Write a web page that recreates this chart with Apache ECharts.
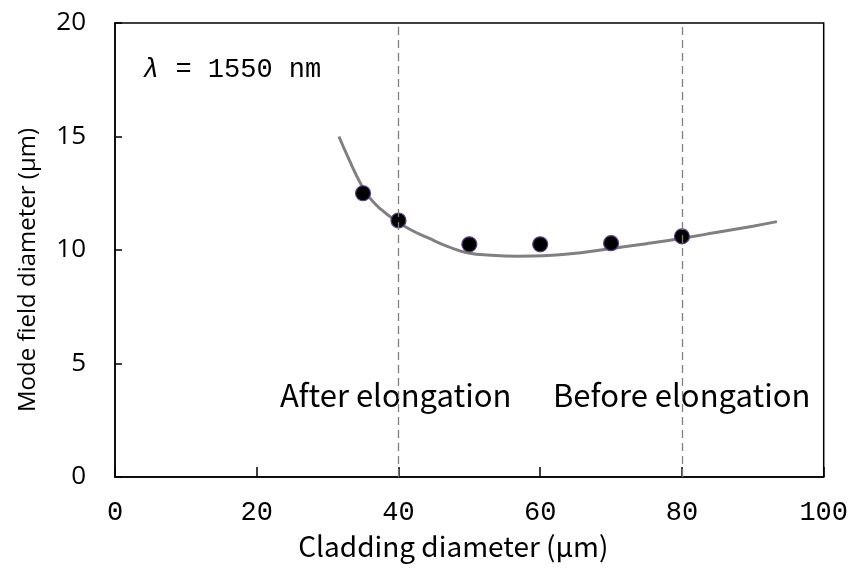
<!DOCTYPE html>
<html>
<head>
<meta charset="utf-8">
<script src="https://cdn.jsdelivr.net/npm/echarts@6/dist/echarts.min.js"></script>
<style>
  html, body { margin: 0; padding: 0; background: #fff; }
  #chart { width: 851px; height: 572px; }
</style>
</head>
<body>
<div id="chart"></div>
<script>
// measured points
const cladding = [35, 40, 50, 60, 70, 80]
const mfd = [12.5, 11.3, 10.25, 10.25, 10.3, 10.6]

// fitted curve
const curveX = [31.6, 33, 34.7, 35.8, 37.5, 39.8, 42, 44.2, 47, 49.9, 53, 56.9, 63.9, 70, 75, 79.9, 85, 90, 93.4]
const curveY = [15.0, 14.0, 12.9, 12.35, 11.8, 11.25, 10.85, 10.53, 10.15, 9.87, 9.77, 9.73, 9.82, 10.07, 10.28, 10.51, 10.78, 11.05, 11.25]

const markX = [40, 80]
const xTicks = [0, 20, 40, 60, 80, 100]
const yTicks = [0, 5, 10, 15, 20]

const mono = '"Liberation Mono", monospace'
const gothic = '"Noto Sans CJK JP", sans-serif'
const sans = '"Open Sans", sans-serif'

let chart = echarts.init(document.getElementById('chart'))
chart.setOption({
    animation: false,
    grid: {
        left: 115, right: 24, top: 23, bottom: 95,
        show: true, borderColor: '#000', borderWidth: 1.5
    },
    xAxis: {
        type: 'value',
        min: xTicks[0],
        max: xTicks[xTicks.length - 1],
        interval: 20,
        name: 'Cladding diameter (μm)',
        nameLocation: 'middle',
        nameGap: 55,
        nameTextStyle: { fontFamily: gothic, fontSize: 28, color: '#000', padding: [0, 32, 0, 0] },
        axisLine: { lineStyle: { color: '#000', width: 1.5 } },
        axisTick: { inside: true, length: 10, lineStyle: { color: '#000', width: 1.5 } },
        axisLabel: { fontFamily: mono, fontSize: 27, color: '#000', margin: 22 },
        splitLine: { show: false }
    },
    yAxis: {
        type: 'value',
        min: yTicks[0],
        max: yTicks[yTicks.length - 1],
        interval: 5,
        name: 'Mode field diameter (μm)',
        nameLocation: 'middle',
        nameGap: 75,
        nameTextStyle: { fontFamily: sans, fontSize: 24, color: '#000', padding: [0, 40, 0, 0] },
        axisLine: { lineStyle: { color: '#000', width: 1.5 } },
        axisTick: { inside: true, length: 7, lineStyle: { color: '#000', width: 1.5 } },
        axisLabel: { fontFamily: sans, fontSize: 26, color: '#000', margin: 29 },
        splitLine: { show: false }
    },
    series: [
        {
            type: 'line',
            data: curveX.map((x, i) => [x, curveY[i]]),
            smooth: true,
            showSymbol: false,
            lineStyle: { color: '#808080', width: 3 },
            markLine: {
                silent: true,
                symbol: 'none',
                label: { show: false },
                lineStyle: { color: '#7f7f7f', type: [8, 5], width: 1.3 },
                data: markX.map(x => ({ xAxis: x }))
            },
            z: 2
        },
        {
            type: 'scatter',
            data: cladding.map((x, i) => [x, mfd[i]]),
            symbolSize: 15,
            itemStyle: { color: '#000', borderColor: '#5b3f85', borderWidth: 1.2, opacity: 1 },
            z: 3
        }
    ],
    graphic: [
        {
            type: 'text', x: 143, y: 70,
            style: {
                text: '{l|λ} = 1550 nm',
                fontFamily: mono, fontSize: 27, fill: '#000', verticalAlign: 'middle',
                rich: { l: { fontFamily: mono, fontSize: 27, fontStyle: 'italic' } }
            }
        },
        {
            type: 'text', x: 280, y: 395,
            style: { text: 'After elongation', fontFamily: gothic, fontSize: 31, fill: '#000', verticalAlign: 'middle' }
        },
        {
            type: 'text', x: 553, y: 395,
            style: { text: 'Before elongation', fontFamily: gothic, fontSize: 31, fill: '#000', verticalAlign: 'middle' }
        }
    ]
})
</script>
</body>
</html>
